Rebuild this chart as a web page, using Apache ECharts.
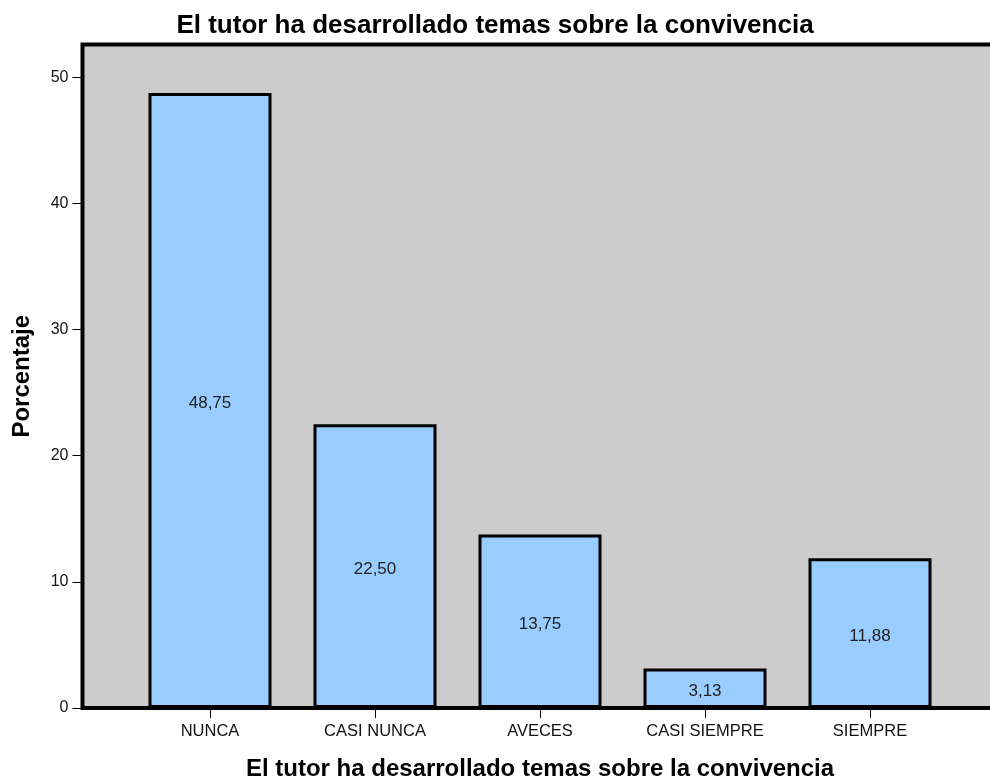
<!DOCTYPE html>
<html>
<head>
<meta charset="utf-8">
<script src="https://cdn.jsdelivr.net/npm/echarts@6/dist/echarts.min.js"></script>
<style>html,body{margin:0;padding:0;background:#fff}#c{width:990px;height:780px}</style>
</head>
<body>
<div id="c"></div>
<script>
const categories = ['NUNCA', 'CASI NUNCA', 'AVECES', 'CASI SIEMPRE', 'SIEMPRE'];
const percentages = [48.75, 22.50, 13.75, 3.13, 11.88];
const yTicks = [0, 10, 20, 30, 40, 50];
const titleText = 'El tutor ha desarrollado temas sobre la convivencia';
const xAxisTitle = 'El tutor ha desarrollado temas sobre la convivencia';
const yAxisTitle = 'Porcentaje';

const FONT = 'Liberation Sans, Arial, sans-serif';
const YMAX = 52.6;
const chart = echarts.init(document.getElementById('c'), null, {renderer: 'canvas'});
chart.setOption({
  animation: false,
  backgroundColor: '#ffffff',
  title: {
    text: titleText, left: 'center', top: 8,
    textStyle: {fontFamily: FONT, fontSize: 26, fontWeight: 'bold', color: '#000'}
  },
  grid: [
    {left: 82.5, top: 44.5, right: -20, bottom: 72, show: true, containLabel: false,
     outerBoundsMode: 'none',
     backgroundColor: '#cccccc', borderColor: '#000', borderWidth: 4},
    {left: 127.5, width: 825, top: 44.5, bottom: 72, containLabel: false, outerBoundsMode: 'none'}
  ],
  xAxis: [
    {gridIndex: 0, type: 'category', data: categories, show: false},
    {gridIndex: 1, type: 'category', data: categories,
     axisLine: {show: false},
     axisTick: {show: true, alignWithLabel: true, length: 10, lineStyle: {color: '#000', width: 1}},
     axisLabel: {fontFamily: FONT, fontSize: 16.5, color: '#111', margin: 15, interval: 0},
     name: xAxisTitle, nameLocation: 'middle', nameGap: 49,
     nameTextStyle: {fontFamily: FONT, fontSize: 24, fontWeight: 'bold', color: '#000'}}
  ],
  yAxis: [
    {gridIndex: 0, type: 'value', min: 0, max: YMAX, interval: 10,
     axisLine: {show: false},
     axisTick: {show: true, length: 10, lineStyle: {color: '#000', width: 1}, customValues: yTicks},
     axisLabel: {fontFamily: FONT, fontSize: 16, color: '#111', margin: 14, customValues: yTicks,
       formatter: v => (yTicks.indexOf(v) >= 0 ? String(v) : '')},
     splitLine: {show: false},
     name: yAxisTitle, nameLocation: 'middle', nameGap: 48,
     nameTextStyle: {fontFamily: FONT, fontSize: 24, fontWeight: 'bold', color: '#000'}},
    {gridIndex: 1, type: 'value', min: 0, max: YMAX, show: false, splitLine: {show: false}}
  ],
  series: [{
    type: 'bar', xAxisIndex: 1, yAxisIndex: 1,
    data: percentages, barWidth: 123,
    itemStyle: {color: '#99ccff', borderColor: '#000', borderWidth: 3},
    label: {show: true, position: 'inside', offset: [0, 3],
      fontFamily: FONT, fontSize: 17, color: '#222',
      formatter: p => p.value.toFixed(2).replace('.', ',')}
  }]
});
</script>
</body>
</html>
